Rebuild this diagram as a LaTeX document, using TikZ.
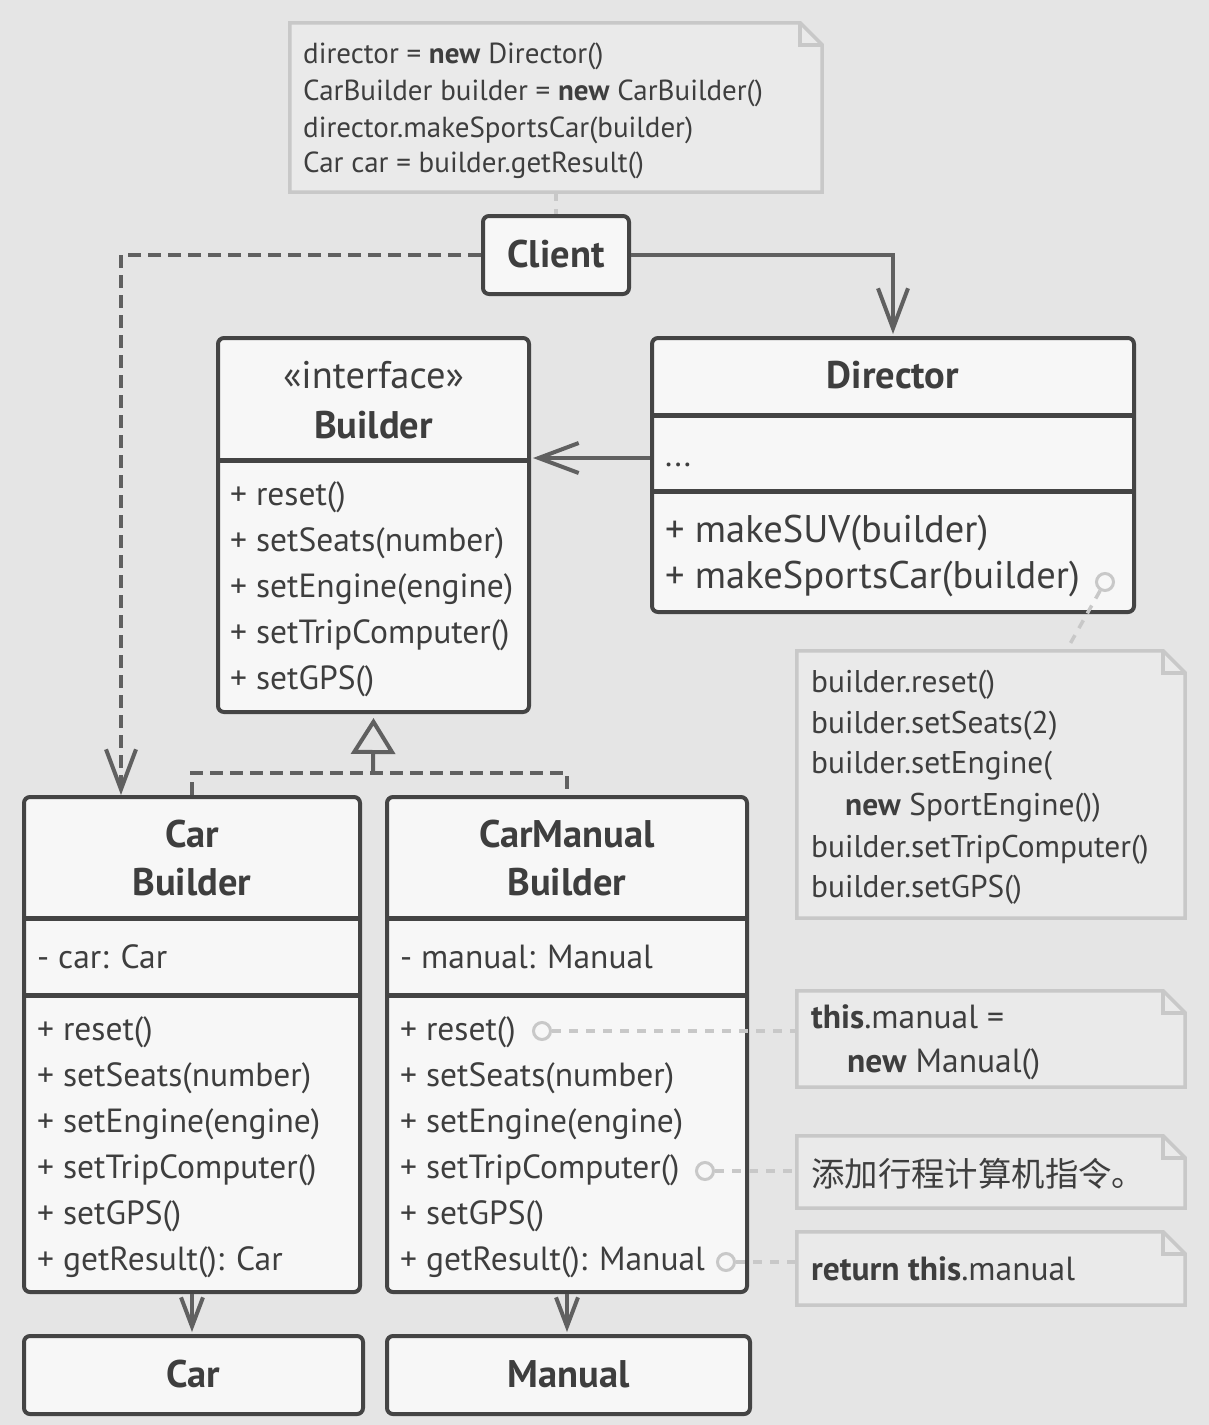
\documentclass[tikz,border=0pt]{standalone}
\usepackage{fontspec}
\setmainfont{PT Sans}
\newfontfamily\cjkfont{Noto Sans CJK SC}
\usepackage{tikz}
\usetikzlibrary{arrows.meta}

\definecolor{bgcol}{RGB}{229,229,229}
\definecolor{boxfill}{RGB}{247,247,247}
\definecolor{boxline}{RGB}{68,68,68}
\definecolor{arrowcol}{RGB}{96,96,96}
\definecolor{notefill}{RGB}{234,234,234}
\definecolor{noteline}{RGB}{200,200,200}
\definecolor{textcol}{RGB}{62,62,62}

\newcommand{\notefold}[1]{%
\draw[draw=noteline, fill=notefill, line width=3.5pt, line join=miter]
  (#1.south west) -- (#1.north west) -- ([xshift=-22pt]#1.north east)
  -- ([yshift=-22pt]#1.north east) -- (#1.south east) -- cycle;
\draw[draw=noteline, line width=3.5pt]
  ([xshift=-22pt]#1.north east) -- ([xshift=-22pt,yshift=-22pt]#1.north east)
  -- ([yshift=-22pt]#1.north east);}

\begin{document}
\begin{tikzpicture}[x=1pt,y=-1pt]
\fill[bgcol] (0,0) rectangle (1209,1425);
\useasboundingbox (0,0) rectangle (1209,1425);
\begin{scope}[every node/.style={inner sep=0pt, draw=none}]
\node[minimum width=532, minimum height=169] (NOTE-client) at (556,107.5) {};
\node[minimum width=388, minimum height=267] (NOTE-sports) at (991,784.5) {};
\node[minimum width=388, minimum height=96] (NOTE-reset) at (991,1039) {};
\node[minimum width=388, minimum height=72] (NOTE-trip) at (991,1172) {};
\node[minimum width=388, minimum height=73] (NOTE-result) at (991,1268.5) {};
\end{scope}
\notefold{NOTE-client}
\notefold{NOTE-sports}
\notefold{NOTE-reset}
\notefold{NOTE-trip}
\notefold{NOTE-result}
\begin{scope}[every node/.style={draw=boxline, fill=boxfill, line width=4pt, rounded corners=6pt, inner sep=0pt}]
\node[minimum width=146, minimum height=78] (BOX-client) at (556,255) {};
\node[minimum width=311, minimum height=374] (BOX-builder) at (373.5,525) {};
\node[minimum width=482, minimum height=274] (BOX-director) at (893,475) {};
\node[minimum width=336, minimum height=495] (BOX-carb) at (192,1044.5) {};
\node[minimum width=360, minimum height=495] (BOX-cmb) at (567,1044.5) {};
\node[minimum width=339, minimum height=78] (BOX-car) at (193.5,1375) {};
\node[minimum width=363, minimum height=78] (BOX-manual) at (568.5,1375) {};
\end{scope}
\begin{scope}[draw=boxline, line width=5pt]
\draw (218,460) -- (529,460);
\draw (652,415) -- (1134,415);
\draw (652,491) -- (1134,491);
\draw (24,918) -- (360,918);
\draw (24,995) -- (360,995);
\draw (387,918) -- (747,918);
\draw (387,995) -- (747,995);
\end{scope}
\begin{scope}[every node/.style={anchor=base, inner sep=0pt, text=textcol, font=\fontsize{38.5}{38.5}\selectfont\bfseries}]
\node (TTL-client) at (556,267) {Client};
\node (TTL-director) at (893,388) {Director};
\node[font=\fontsize{38.5}{38.5}\selectfont] (TTL-iface) at (373.5,388) {«interface»};
\node (TTL-builder) at (373.5,438) {Builder};
\node (TTL-carb1) at (192,847) {Car};
\node (TTL-carb2) at (192,895) {Builder};
\node (TTL-cmb1) at (567,847) {CarManual};
\node (TTL-cmb2) at (567,895) {Builder};
\node (TTL-car) at (193.5,1387) {Car};
\node (TTL-manual) at (568.5,1387) {Manual};
\end{scope}
\begin{scope}[every node/.style={anchor=base west, inner sep=0pt, text=textcol, font=\fontsize{33.5}{33.5}\selectfont}]
\node (BLD-1) at (230,505) {+ reset()};
\node (BLD-2) at (230,551) {+ setSeats(number)};
\node (BLD-3) at (230,597) {+ setEngine(engine)};
\node (BLD-4) at (230,643) {+ setTripComputer()};
\node (BLD-5) at (230,689) {+ setGPS()};
\node (CB-0) at (37,968) {- car: Car};
\node (CB-1) at (37,1040) {+ reset()};
\node (CB-2) at (37,1086) {+ setSeats(number)};
\node (CB-3) at (37,1132) {+ setEngine(engine)};
\node (CB-4) at (37,1178) {+ setTripComputer()};
\node (CB-5) at (37,1224) {+ setGPS()};
\node (CB-6) at (37,1270) {+ getResult(): Car};
\node (CMB-0) at (400,968) {- manual: Manual};
\node (CMB-1) at (400,1040) {+ reset()};
\node (CMB-2) at (400,1086) {+ setSeats(number)};
\node (CMB-3) at (400,1132) {+ setEngine(engine)};
\node (CMB-4) at (400,1178) {+ setTripComputer()};
\node (CMB-5) at (400,1224) {+ setGPS()};
\node (CMB-6) at (400,1270) {+ getResult(): Manual};
\node (DIR-0) at (665,466) {...};
\node[font=\fontsize{38.5}{38.5}\selectfont] (DIR-1) at (665,542) {+ makeSUV(builder)};
\node[font=\fontsize{38.5}{38.5}\selectfont] (DIR-2) at (665,588) {+ makeSportsCar(builder)};
\end{scope}
\begin{scope}[every node/.style={anchor=base west, inner sep=0pt, text=textcol, font=\fontsize{29}{29}\selectfont}]
\node (TXT-c1) at (303,63) {director = \textbf{new} Director()};
\node (TXT-c2) at (303,100) {CarBuilder builder = \textbf{new} CarBuilder()};
\node (TXT-c3) at (303,137) {director.makeSportsCar(builder)};
\node (TXT-c4) at (303,172) {Car car = builder.getResult()};
\end{scope}
\begin{scope}[every node/.style={anchor=base west, inner sep=0pt, text=textcol, font=\fontsize{31.4}{31.4}\selectfont}]
\node (TXT-s1) at (811,692) {builder.reset()};
\node (TXT-s2) at (811,733) {builder.setSeats(2)};
\node (TXT-s3) at (811,773) {builder.setEngine(};
\node (TXT-s4) at (845,815) {\textbf{new} SportEngine())};
\node (TXT-s5) at (811,857) {builder.setTripComputer()};
\node (TXT-s6) at (811,897) {builder.setGPS()};
\end{scope}
\begin{scope}[every node/.style={anchor=base west, inner sep=0pt, text=textcol, font=\fontsize{33.5}{33.5}\selectfont}]
\node (TXT-r1) at (811,1028) {\textbf{this}.manual =};
\node (TXT-r2) at (847,1072) {\textbf{new} Manual()};
\node[font=\fontsize{33.4}{33.4}\selectfont\cjkfont] (TXT-t1) at (811,1186) {添加行程计算机指令。};
\node (TXT-g1) at (811,1280) {\textbf{return this}.manual};
\end{scope}
\begin{scope}[every node/.style={circle, draw=noteline, fill=boxfill, line width=3pt, minimum size=17pt, inner sep=0pt}]
\node (CIR-sports) at (1105,582) {};
\node (CIR-reset) at (542,1031) {};
\node (CIR-trip) at (705,1171) {};
\node (CIR-result) at (726,1262) {};
\end{scope}
\coordinate (NOTE-sports-in) at (1066,651);
\coordinate (IMPL-joint) at (373,773);
\coordinate (CB-in) at (121,795);
\begin{scope}[draw=noteline, line width=3.5pt, dash pattern=on 9pt off 8pt]
\draw (NOTE-client.south) -- (BOX-client.north);
\draw (CIR-sports) -- (NOTE-sports-in);
\draw (CIR-reset) -- (CIR-reset -| NOTE-reset.west);
\draw (CIR-trip) -- (CIR-trip -| NOTE-trip.west);
\draw (CIR-result) -- (CIR-result -| NOTE-result.west);
\end{scope}
\begin{scope}[draw=arrowcol, line width=4pt, >={Straight Barb[length=40pt,width=30pt]}]
\draw[->] (BOX-client.east) -| ([yshift=2pt]BOX-director.north);
\draw[->, dash pattern=on 13pt off 7pt] (BOX-client.west) -| (CB-in);
\draw[->] (BOX-director.west |- 0,458) -- ([xshift=2pt]BOX-builder.east |- 0,458);
\draw[dash pattern=on 13pt off 7pt] (BOX-carb.north) |- (IMPL-joint) -| (BOX-cmb.north);
\draw[-{Triangle[open,length=36pt,width=44pt]}] (IMPL-joint) -- ([yshift=-4pt]BOX-builder.south);
\draw[-{Straight Barb[length=29pt,width=22pt]}] (BOX-carb.south) -- ([yshift=2pt]BOX-carb.south |- BOX-car.north);
\draw[-{Straight Barb[length=29pt,width=22pt]}] (BOX-cmb.south) -- ([yshift=2pt]BOX-cmb.south |- BOX-manual.north);
\end{scope}
\end{tikzpicture}
\end{document}
